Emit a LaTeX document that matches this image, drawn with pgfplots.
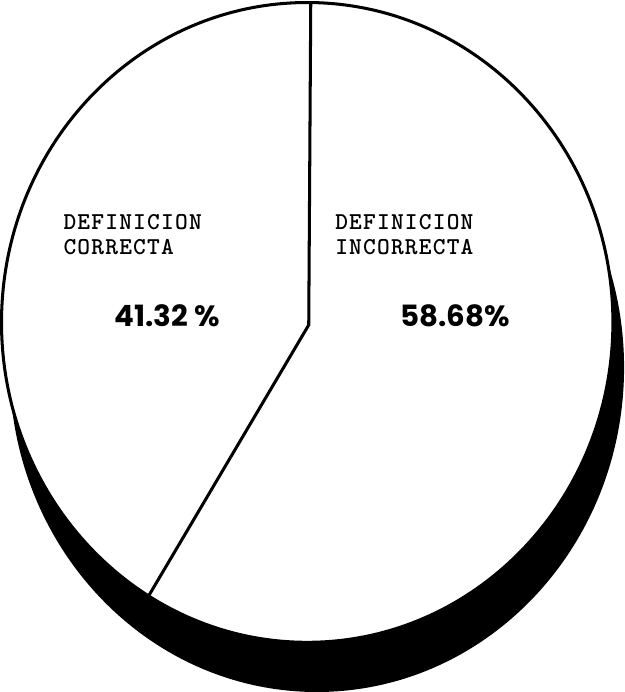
\documentclass[border=0pt]{standalone}
\usepackage{pgfplots}
\pgfplotsset{compat=1.18}
\usepackage{pgfplotstable}
\usepackage{fontspec}
\setmainfont{Liberation Sans}
\newfontfamily\geo{Poppins}
\newfontfamily\mono[LetterSpace=5]{lmmonolt10-bold.otf}
\pgfplotstableread{
label value
correcta 41.32
incorrecta 58.68
}\piedata
\begin{document}
\begin{tikzpicture}
\pgfplotstablegetelem{0}{value}\of\piedata
\pgfmathsetmacro{\angA}{90+360*\pgfplotsretval/100}
\begin{axis}[hide axis, scale only axis, width=622bp, height=692bp,
  xmin=0, xmax=622, ymin=0, ymax=692]
% shadow
\fill[black] (axis cs:318,325) ellipse [x radius=303, y radius=320];
% pie
\filldraw[fill=white, draw=black, line width=3pt] (axis cs:308.5,369.5) ellipse [x radius=301.5, y radius=315.5];
\draw[black, line width=3pt] (axis cs:312,686) -- (axis cs:310,367)
  -- (axis cs:{308.5+301.5*cos(\angA)},{369.5+315.5*sin(\angA)});
\node[anchor=north west, align=left, font=\mono\fontsize{24}{25}\selectfont, inner sep=0pt]
  at (axis cs:68,476) {DEFINICION\\CORRECTA};
\node[anchor=north west, align=left, font=\mono\fontsize{24}{25}\selectfont, inner sep=0pt]
  at (axis cs:336,476) {DEFINICION\\INCORRECTA};
\node[anchor=west, font=\geo\bfseries\fontsize{29}{32}\selectfont, inner sep=0pt]
  at (axis cs:118,376) {41.32 \%};
\node[anchor=west, font=\geo\bfseries\fontsize{29}{32}\selectfont, inner sep=0pt]
  at (axis cs:400,376) {58.68\%};
\end{axis}
\end{tikzpicture}
\end{document}
